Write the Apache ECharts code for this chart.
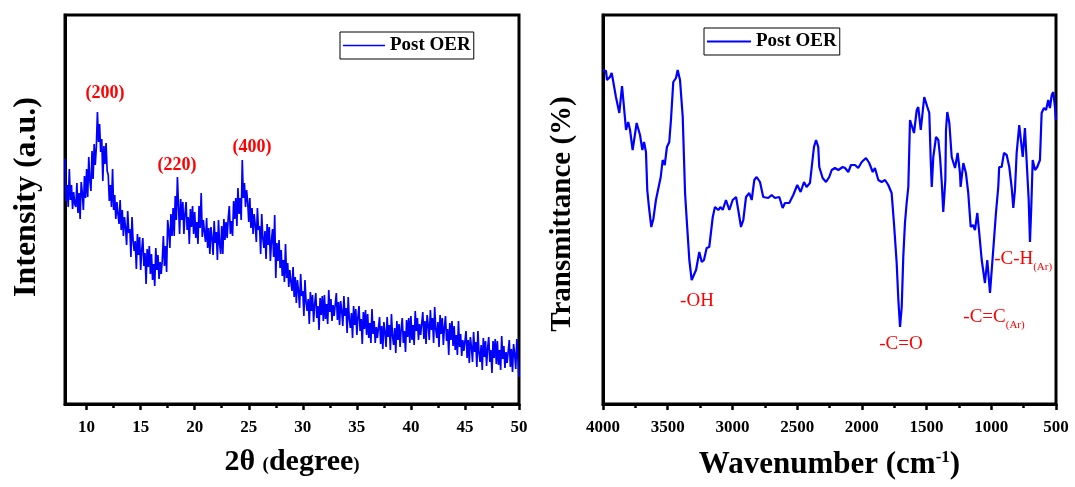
<!DOCTYPE html>
<html>
<head>
<meta charset="utf-8">
<script src="https://cdn.jsdelivr.net/npm/echarts@6/dist/echarts.min.js"></script>
<style>
html,body{margin:0;padding:0;background:#fff;}
#c{width:1075px;height:487px;}
</style>
</head>
<body>
<div id="c"></div>
<script>
// ---------- XRD (left panel) ----------
const xrdAngle = [
8.0,8.1,8.2,8.3,8.4,8.5,8.6,8.7,8.8,8.9,
9.0,9.1,9.2,9.3,9.4,9.5,9.6,9.7,9.8,9.9,
10.0,10.1,10.2,10.3,10.4,10.5,10.6,10.7,10.8,10.9,
11.0,11.1,11.2,11.3,11.4,11.5,11.6,11.7,11.8,11.9,
12.0,12.1,12.2,12.3,12.4,12.5,12.6,12.7,12.8,12.9,
13.0,13.1,13.2,13.3,13.4,13.5,13.6,13.7,13.8,13.9,
14.0,14.1,14.2,14.3,14.4,14.5,14.6,14.7,14.8,14.9,
15.0,15.1,15.2,15.3,15.4,15.5,15.6,15.7,15.8,15.9,
16.0,16.1,16.2,16.3,16.4,16.5,16.6,16.7,16.8,16.9,
17.0,17.1,17.2,17.3,17.4,17.5,17.6,17.7,17.8,17.9,
18.0,18.1,18.2,18.3,18.4,18.5,18.6,18.7,18.8,18.9,
19.0,19.1,19.2,19.3,19.4,19.5,19.6,19.7,19.8,19.9,
20.0,20.1,20.2,20.3,20.4,20.5,20.6,20.7,20.8,20.9,
21.0,21.1,21.2,21.3,21.4,21.5,21.6,21.7,21.8,21.9,
22.0,22.1,22.2,22.3,22.4,22.5,22.6,22.7,22.8,22.9,
23.0,23.1,23.2,23.3,23.4,23.5,23.6,23.7,23.8,23.9,
24.0,24.1,24.2,24.3,24.4,24.5,24.6,24.7,24.8,24.9,
25.0,25.1,25.2,25.3,25.4,25.5,25.6,25.7,25.8,25.9,
26.0,26.1,26.2,26.3,26.4,26.5,26.6,26.7,26.8,26.9,
27.0,27.1,27.2,27.3,27.4,27.5,27.6,27.7,27.8,27.9,
28.0,28.1,28.2,28.3,28.4,28.5,28.6,28.7,28.8,28.9,
29.0,29.1,29.2,29.3,29.4,29.5,29.6,29.7,29.8,29.9,
30.0,30.1,30.2,30.3,30.4,30.5,30.6,30.7,30.8,30.9,
31.0,31.1,31.2,31.3,31.4,31.5,31.6,31.7,31.8,31.9,
32.0,32.1,32.2,32.3,32.4,32.5,32.6,32.7,32.8,32.9,
33.0,33.1,33.2,33.3,33.4,33.5,33.6,33.7,33.8,33.9,
34.0,34.1,34.2,34.3,34.4,34.5,34.6,34.7,34.8,34.9,
35.0,35.1,35.2,35.3,35.4,35.5,35.6,35.7,35.8,35.9,
36.0,36.1,36.2,36.3,36.4,36.5,36.6,36.7,36.8,36.9,
37.0,37.1,37.2,37.3,37.4,37.5,37.6,37.7,37.8,37.9,
38.0,38.1,38.2,38.3,38.4,38.5,38.6,38.7,38.8,38.9,
39.0,39.1,39.2,39.3,39.4,39.5,39.6,39.7,39.8,39.9,
40.0,40.1,40.2,40.3,40.4,40.5,40.6,40.7,40.8,40.9,
41.0,41.1,41.2,41.3,41.4,41.5,41.6,41.7,41.8,41.9,
42.0,42.1,42.2,42.3,42.4,42.5,42.6,42.7,42.8,42.9,
43.0,43.1,43.2,43.3,43.4,43.5,43.6,43.7,43.8,43.9,
44.0,44.1,44.2,44.3,44.4,44.5,44.6,44.7,44.8,44.9,
45.0,45.1,45.2,45.3,45.4,45.5,45.6,45.7,45.8,45.9,
46.0,46.1,46.2,46.3,46.4,46.5,46.6,46.7,46.8,46.9,
47.0,47.1,47.2,47.3,47.4,47.5,47.6,47.7,47.8,47.9,
48.0,48.1,48.2,48.3,48.4,48.5,48.6,48.7,48.8,48.9,
49.0,49.1,49.2,49.3,49.4,49.5,49.6,49.7,49.8,49.9,
50.0];
const xrdIntensity = [
245,203,219,197,235,204,219,195,212,200,
197,221,191,211,185,222,211,194,228,206,
235,207,247,223,213,253,225,260,239,257,
292,262,280,252,265,223,258,240,261,233,
229,203,219,197,235,194,209,185,202,190,
180,204,174,194,168,187,176,159,193,171,
175,147,187,163,153,163,135,170,149,167,
134,154,166,138,151,120,155,137,158,130,
150,124,140,118,156,134,149,125,142,130,
144,168,138,158,132,184,173,156,190,168,
196,168,208,184,227,198,170,205,184,202,
170,190,202,174,187,160,195,177,198,170,
192,166,182,160,198,176,211,167,184,172,
162,186,156,176,150,177,166,149,183,161,
172,144,184,160,150,178,150,185,164,182,
166,186,198,170,183,168,203,185,206,178,
216,190,206,184,244,206,221,197,214,202,
182,206,176,196,170,190,179,162,196,174,
178,150,190,166,156,173,145,180,159,177,
143,163,175,147,189,126,161,143,164,136,
154,128,144,122,160,126,141,117,134,122,
113,137,107,127,101,124,113,96,130,108,
113,88,124,102,93,105,80,112,93,109,
82,100,111,86,98,74,106,89,108,83,
109,85,100,80,114,92,105,83,99,88,
90,111,84,102,79,103,93,78,108,88,
96,71,107,85,76,91,66,98,79,95,
69,87,98,73,85,60,92,75,94,69,
90,66,81,61,95,70,83,61,77,66,
66,87,60,78,55,82,72,57,87,67,
79,54,90,68,59,76,51,83,64,80,
57,75,86,61,73,52,84,67,86,61,
88,64,79,59,93,73,86,64,80,69,
71,92,65,83,60,89,79,64,94,74,
86,61,97,75,66,82,57,89,70,86,
59,77,88,63,75,49,81,64,83,58,
78,54,69,49,83,57,70,48,64,53,
52,73,46,64,41,67,57,42,72,52,
62,37,73,51,42,59,34,66,47,63,
38,56,67,42,54,31,63,46,65,40,
63,39,54,34,68,45,58,36,52,41,
43,64,37,55,32,60,50,35,65,45,
27];
const xrdTicks = [10,15,20,25,30,35,40,45,50];
const xrdMinorTicks = [12.5,17.5,22.5,27.5,32.5,37.5,42.5,47.5];
const xrdPeakLabels = ['(200)','(220)','(400)'];
const xrdPeakPos = [[11.7,311],[18.36,239],[25.3,257]];

// ---------- FTIR (right panel) ----------
const ftirWavenumber = [4000,3977,3969,3946,3933,3923,3900,3890,3874,3853,3838,3822,3805,3791,3771,3740,3714,3696,3683,3668,
3658,3645,3627,3611,3591,3575,3554,3539,3523,3506,3488,3475,3457,3436,3423,3405,3384,3366,3353,3333,
3315,3302,3281,3256,3237,3220,3199,3179,3152,3135,3109,3091,3075,3050,3024,2998,2972,2955,2934,2916,
2895,2870,2851,2831,2813,2787,2762,2723,2697,2671,2638,2612,2594,2561,2530,2499,2473,2447,2427,2401,
2388,2370,2354,2337,2329,2303,2277,2252,2233,2208,2182,2148,2130,2105,2084,2053,2028,2001,1968,1943,
1916,1899,1873,1847,1821,1796,1770,1752,1731,1718,1705,1692,1680,1667,1654,1641,1628,1615,1597,1576,
1564,1545,1518,1494,1479,1468,1460,1448,1427,1409,1396,1383,1371,1355,1350,1340,1324,1306,1280,1260,
1242,1237,1216,1196,1178,1159,1141,1126,1108,1093,1074,1049,1031,1010,985,964,946,939,920,902,
881,861,842,830,817,804,784,757,740,722,711,701,691,680,662,645,624,611,593,577,
560,547,533,521,508,500];
const ftirTransmittance = [334,333,324,327,331,324,307,309,291,318,297,274,282,274,254,281,269,254,262,252,
214,197,177,185,204,214,227,244,239,257,262,284,322,326,334,324,287,211,184,144,
124,125,134,152,142,144,156,157,187,197,194,197,194,204,194,204,207,194,177,184,
207,211,204,224,227,222,207,206,209,206,207,196,201,201,209,219,212,222,217,221,
222,257,264,257,237,226,222,227,234,236,234,237,236,232,239,239,236,242,246,241,
232,236,224,222,224,219,211,181,141,104,77,97,147,181,201,217,284,286,271,294,
297,274,307,297,291,244,217,247,267,264,247,222,192,224,274,292,281,247,236,251,
231,217,241,231,211,177,179,174,191,171,144,121,144,111,154,191,217,237,237,251,
249,237,216,196,214,251,279,247,276,231,204,162,197,244,234,237,244,291,296,294,
304,296,309,312,297,284];
const ftirTicks = [4000,3500,3000,2500,2000,1500,1000,500];
const ftirBandLabels = ['-OH','-C=O','-C=C','-C-H'];
const ftirBandSub = ['','','(Ar)','(Ar)'];
const ftirBandPos = [[3274,103],[1698,60],[979,87],[754,145]];

const seriesName = 'Post OER';
const xrdTitle = 'Intensity (a.u.)';
const ftirTitle = 'Transmittance (%)';

// ---------- chart ----------
const FONT = "'Liberation Serif','Times New Roman',serif";
const chart = echarts.init(document.getElementById('c'), null, {renderer: 'canvas'});

const xrdData = xrdAngle.map((a, i) => [a, xrdIntensity[i]]);
const ftirData = ftirWavenumber.map((w, i) => [w, ftirTransmittance[i]]);

const tickLabelStyle = {color: '#000', fontFamily: FONT, fontWeight: 'bold', fontSize: 17, margin: 15,
  formatter: function (v) { return String(v); }};
const tickStyle = {color: '#000', width: 2.5};

chart.setOption({
  animation: false,
  backgroundColor: '#fff',
  grid: [
    {left: 65, width: 454, top: 15, height: 389, show: true, borderColor: '#000', borderWidth: 3, backgroundColor: 'transparent'},
    {left: 603, width: 453, top: 15, height: 389, show: true, borderColor: '#000', borderWidth: 3, backgroundColor: 'transparent'}
  ],
  legend: [
    {data: [{name: seriesName, icon: 'path://M0,0H84V3H0Z'}], left: 340, top: 32, itemWidth: 42, itemHeight: 1.5, itemGap: 4,
     borderColor: '#000', borderWidth: 1, padding: [4, 3, 4, 3],
     textStyle: {fontFamily: FONT, fontWeight: 'bold', fontSize: 19, color: '#000'}},
    {data: [{name: seriesName + ' ', icon: 'path://M0,0H80V4H0Z'}], left: 704, top: 28, itemWidth: 44, itemHeight: 2.2, itemGap: 4,
     borderColor: '#000', borderWidth: 1, padding: [4, 3, 4, 3],
     formatter: function (n) { return n.trim(); },
     textStyle: {fontFamily: FONT, fontWeight: 'bold', fontSize: 19, color: '#000'}}
  ],
  xAxis: [
    {gridIndex: 0, type: 'value', min: 8, max: 50, position: 'bottom',
     axisLine: {show: true, lineStyle: {color: '#000', width: 3}},
     axisTick: {show: true, customValues: xrdTicks, length: 6, inside: false, lineStyle: tickStyle},
     axisLabel: Object.assign({customValues: xrdTicks}, tickLabelStyle),
     splitLine: {show: false},
     name: '{b|2θ }{p|(}{b|degree}{p|)}', nameLocation: 'middle', nameGap: 43,
     nameTextStyle: {rich: {
       b: {fontFamily: FONT, fontWeight: 'bold', fontSize: 30, color: '#000'},
       p: {fontFamily: FONT, fontWeight: 'bold', fontSize: 19, color: '#000', padding: [7,0,0,0]}
     }}},
    {gridIndex: 0, type: 'value', min: 8, max: 50, position: 'bottom',
     axisLine: {show: false},
     axisTick: {show: true, customValues: xrdMinorTicks, length: 4, inside: false, lineStyle: tickStyle},
     axisLabel: {show: false}, splitLine: {show: false}},
    {gridIndex: 1, type: 'value', min: 500, max: 4000, interval: 500, inverse: true, position: 'bottom',
     axisLine: {show: true, lineStyle: {color: '#000', width: 3}},
     axisTick: {show: true, length: 6, inside: false, lineStyle: tickStyle},
     minorTick: {show: true, splitNumber: 2, length: 4, lineStyle: tickStyle},
     axisLabel: Object.assign({customValues: ftirTicks}, tickLabelStyle),
     splitLine: {show: false},
     name: '{b|Wavenumber (cm}{s|-1}{b|)}', nameLocation: 'middle', nameGap: 45,
     nameTextStyle: {rich: {
       b: {fontFamily: FONT, fontWeight: 'bold', fontSize: 31, color: '#000'},
       s: {fontFamily: FONT, fontWeight: 'bold', fontSize: 17, color: '#000', padding: [0,0,15,0]}
     }}}
  ],
  yAxis: [
    {gridIndex: 0, type: 'value', min: 0, max: 389,
     axisLine: {show: true, lineStyle: {color: '#000', width: 3}}, axisTick: {show: false}, axisLabel: {show: false}, splitLine: {show: false},
     name: xrdTitle, nameLocation: 'middle', nameGap: 22, nameRotate: 90,
     nameTextStyle: {fontFamily: FONT, fontWeight: 'bold', fontSize: 32, color: '#000', padding: [0,0,0,25]}},
    {gridIndex: 1, type: 'value', min: 0, max: 389,
     axisLine: {show: true, lineStyle: {color: '#000', width: 3}}, axisTick: {show: false}, axisLabel: {show: false}, splitLine: {show: false},
     name: ftirTitle, nameLocation: 'middle', nameGap: 26, nameRotate: 90,
     nameTextStyle: {fontFamily: FONT, fontWeight: 'bold', fontSize: 29, color: '#000', padding: [0,9,0,0]}}
  ],
  series: [
    {name: seriesName, type: 'line', xAxisIndex: 0, yAxisIndex: 0, data: xrdData, symbol: 'none', sampling: false,
     lineStyle: {color: '#0000ff', width: 1.7}, itemStyle: {color: '#0000ff'}},
    {name: seriesName + ' ', type: 'line', xAxisIndex: 2, yAxisIndex: 1, data: ftirData, symbol: 'none',
     lineStyle: {color: '#0000ff', width: 2.2}, itemStyle: {color: '#0000ff'}}
  ]
});

// annotations anchored in data coordinates
const graphics = [];
xrdPeakLabels.forEach((t, i) => {
  const p = chart.convertToPixel({xAxisIndex: 0, yAxisIndex: 0}, xrdPeakPos[i]);
  graphics.push({type: 'text', x: p[0], y: p[1], z: 100,
    style: {text: t, fill: '#ff0000', font: 'bold 18px ' + FONT, align: 'center', verticalAlign: 'middle'}});
});
ftirBandLabels.forEach((t, i) => {
  const p = chart.convertToPixel({xAxisIndex: 2, yAxisIndex: 1}, ftirBandPos[i]);
  const txt = ftirBandSub[i] ? '{a|' + t + '}{s|' + ftirBandSub[i] + '}' : '{a|' + t + '}';
  graphics.push({type: 'text', x: p[0], y: p[1], z: 100,
    style: {text: txt, align: 'center', verticalAlign: 'middle',
      rich: {
        a: {fill: '#ff0000', fontFamily: FONT, fontSize: 19, lineHeight: 22},
        s: {fill: '#ff0000', fontFamily: FONT, fontSize: 11, padding: [16,0,0,0], verticalAlign: 'bottom'}
      }}});
});
chart.setOption({graphic: graphics});
</script>
</body>
</html>
